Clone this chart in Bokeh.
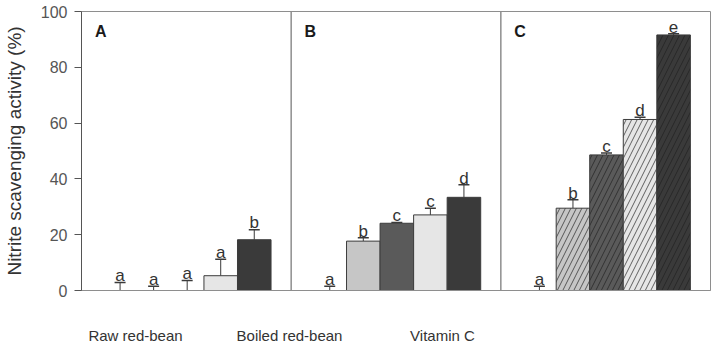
from bokeh.plotting import figure
from bokeh.models import (ColumnDataSource, Range1d, Whisker, TeeHead, Span,
                          FixedTicker)
from bokeh.core.properties import value
from bokeh.embed import file_html
from bokeh.resources import INLINE

# Nitrite scavenging activity (%) for five concentrations in three sample groups
groups = ["Raw red-bean", "Boiled red-bean", "Vitamin C"]
panel_tags = ["A", "B", "C"]

raw_mean = [0.0, 0.0, 0.0, 5.3, 18.2]
raw_err = [2.9, 1.5, 3.6, 5.9, 3.6]
raw_sig = ["a", "a", "a", "a", "b"]

boiled_mean = [0.0, 17.7, 24.1, 27.1, 33.4]
boiled_err = [1.5, 1.2, 0.3, 2.4, 4.5]
boiled_sig = ["a", "b", "c", "c", "d"]

vitc_mean = [0.0, 29.5, 48.6, 61.3, 91.6]
vitc_err = [1.5, 3.0, 0.7, 0.8, 0.4]
vitc_sig = ["a", "b", "c", "d", "e"]

y_ticks = [0, 20, 40, 60, 80, 100]

# styling
FONT = "Liberation Sans"
bar_colors = ["#ffffff", "#c6c6c6", "#5a5a5a", "#e6e6e6", "#3a3a3a"]
PANEL_W = 6.25        # width of one panel in bar units
BAR_OFFSET = 1.15     # centre of first bar inside a panel
SIG_GAP = 2.4         # gap (in %) between an error cap and its letter
label_pos = [1.61, 6.2, 10.76]   # group caption positions along x

p = figure(width=715, height=347, output_backend="svg", toolbar_location=None,
           x_range=Range1d(0, 3 * PANEL_W), y_range=Range1d(0, 100),
           min_border_left=81, min_border_right=5, min_border_top=11,
           min_border_bottom=57)
p.xgrid.visible = False
p.ygrid.visible = False
p.outline_line_color = "#8e8e8e"
p.outline_line_width = 1
p.background_fill_color = "white"
p.border_fill_color = "white"

series = [(raw_mean, raw_err, raw_sig), (boiled_mean, boiled_err, boiled_sig),
          (vitc_mean, vitc_err, vitc_sig)]

for gi, (means, errs, sigs) in enumerate(series):
    xs = [gi * PANEL_W + BAR_OFFSET + k for k in range(len(means))]
    caps = [m + e for m, e in zip(means, errs)]
    src = ColumnDataSource(dict(x=xs, top=means, cap=caps, sig=sigs,
                                sig_y=[c + SIG_GAP for c in caps],
                                color=bar_colors[:len(means)]))
    hatch = dict(hatch_pattern="/", hatch_color="#1e1e1e", hatch_scale=11,
                 hatch_weight=0.8, hatch_alpha=0.85) if gi == 2 else {}
    p.vbar(x="x", top="top", bottom=0, width=1.0, source=src,
           fill_color="color", line_color="#3c3c3c", line_width=1, **hatch)
    p.add_layout(Whisker(source=src, base="x", lower="top", upper="cap",
                         line_color="#3a3a3a", line_width=1,
                         lower_head=None,
                         upper_head=TeeHead(size=11, line_color="#3a3a3a",
                                            line_width=1.5)))
    p.text(x="x", y="sig_y", text="sig", source=src,
           text_align="center", text_baseline="alphabetic",
           text_font=value(FONT), text_font_size="17px", text_color="#333333")
    p.text(x=[gi * PANEL_W + 0.4], y=[93], text=[panel_tags[gi]],
           text_align="left", text_baseline="middle", text_font=value(FONT),
           text_font_size="16px", text_font_style="bold", text_color="#1a1a1a")

# panel dividers
for gi in (1, 2):
    p.add_layout(Span(location=gi * PANEL_W, dimension="height",
                      line_color="#8e8e8e", line_width=1.5))

# y axis
p.yaxis.ticker = FixedTicker(ticks=y_ticks)
p.yaxis.axis_label = "Nitrite scavenging activity (%)"
p.yaxis.axis_label_text_font = FONT
p.yaxis.axis_label_text_font_size = "19px"
p.yaxis.axis_label_text_font_style = "normal"
p.yaxis.axis_label_text_color = "#333333"
p.yaxis.axis_label_standoff = 13
p.yaxis.major_label_text_font = FONT
p.yaxis.major_label_text_font_size = "16px"
p.yaxis.major_label_text_color = "#555555"
p.yaxis.major_label_standoff = 7
p.yaxis.major_tick_out = 7
p.yaxis.major_tick_in = 0
p.yaxis.minor_tick_out = 0
p.yaxis.minor_tick_in = 0
p.yaxis.axis_line_color = "#555555"
p.yaxis.major_tick_line_color = "#555555"

# x axis carries the group captions
p.xaxis.ticker = FixedTicker(ticks=label_pos)
p.xaxis.major_label_overrides = {lp: g for lp, g in zip(label_pos, groups)}
p.xaxis.major_label_text_font = FONT
p.xaxis.major_label_text_font_size = "15px"
p.xaxis.major_label_text_color = "#333333"
p.xaxis.major_label_standoff = 36
p.xaxis.major_tick_out = 0
p.xaxis.major_tick_in = 0
p.xaxis.minor_tick_out = 0
p.xaxis.minor_tick_in = 0
p.xaxis.axis_line_color = "#8e8e8e"

open("out.html", "w").write(file_html(p, INLINE))
